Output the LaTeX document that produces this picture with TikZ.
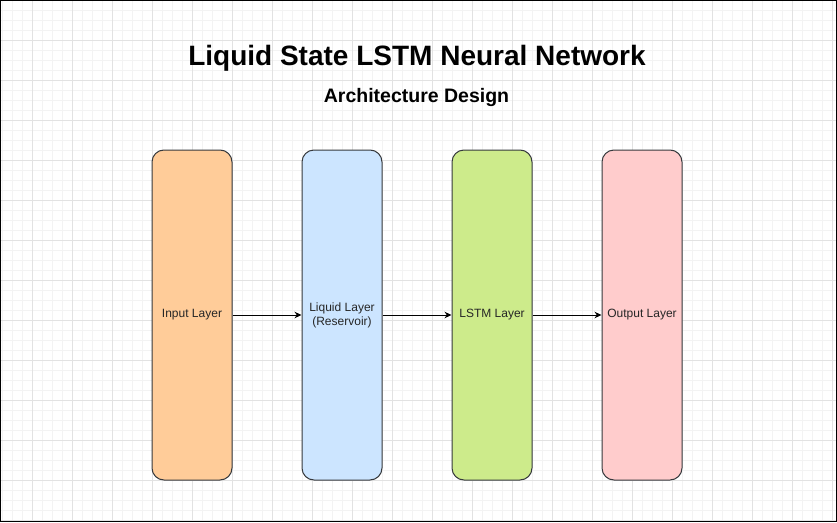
\documentclass[tikz,border=0pt]{standalone}
\usepackage{fontspec}
\setmainfont{Liberation Sans}
\usetikzlibrary{arrows.meta}

\definecolor{inputfill}{HTML}{FFCC99}
\definecolor{liquidfill}{HTML}{CCE5FF}
\definecolor{lstmfill}{HTML}{CDEB8B}
\definecolor{outputfill}{HTML}{FFCCCC}
\definecolor{boxline}{HTML}{36393D}
\definecolor{gridminor}{HTML}{F3F3F3}
\definecolor{gridmajor}{HTML}{E2E2E2}

\begin{document}
\begin{tikzpicture}[x=1pt,y=-1pt,
		layer/.style={draw=boxline,line width=1pt,rounded corners=12pt,minimum width=80pt,minimum height=330pt,inner sep=0pt,align=center,font=\fontsize{12}{14}\selectfont,text=black!85},
		flow/.style={line width=1pt,-{Stealth[length=7pt,width=6.5pt]}}]
		\useasboundingbox (0,0) rectangle (837,522);
		\fill[white] (0,0) rectangle (837,522);
		% grid
		\foreach \gx in {2.5,12.5,...,832.5} \draw[gridminor,line width=0.8pt] (\gx,0) -- (\gx,522);
		\foreach \gy in {10.5,20.5,...,520.5} \draw[gridminor,line width=0.8pt] (0,\gy) -- (837,\gy);
		\foreach \gx in {32.5,72.5,...,832.5} \draw[gridmajor,line width=0.8pt] (\gx,0) -- (\gx,522);
		\foreach \gy in {40.5,80.5,...,520.5} \draw[gridmajor,line width=0.8pt] (0,\gy) -- (837,\gy);
		\draw[line width=1.2pt] (0.6,0.6) rectangle (836.4,521.4);
		% titles
		\node[anchor=base,inner sep=0pt,font=\fontsize{28}{32}\selectfont\bfseries] (title) at (417,65) {Liquid State LSTM Neural Network};
		\node[anchor=base,inner sep=0pt,font=\fontsize{19.5}{22}\selectfont\bfseries] (subtitle) at (416.5,102.5) {Architecture Design};
		% layers
		\node[layer,fill=inputfill] (input) at (192,315) {Input Layer};
		\node[layer,fill=liquidfill] (liquid) at (342,315) {Liquid Layer\\(Reservoir)};
		\node[layer,fill=lstmfill] (lstm) at (492,315) {LSTM Layer};
		\node[layer,fill=outputfill] (output) at (642,315) {Output Layer};
		\draw[flow] (input) -- (liquid);
		\draw[flow] (liquid) -- (lstm);
		\draw[flow] (lstm) -- (output);
	\end{tikzpicture}
\end{document}
